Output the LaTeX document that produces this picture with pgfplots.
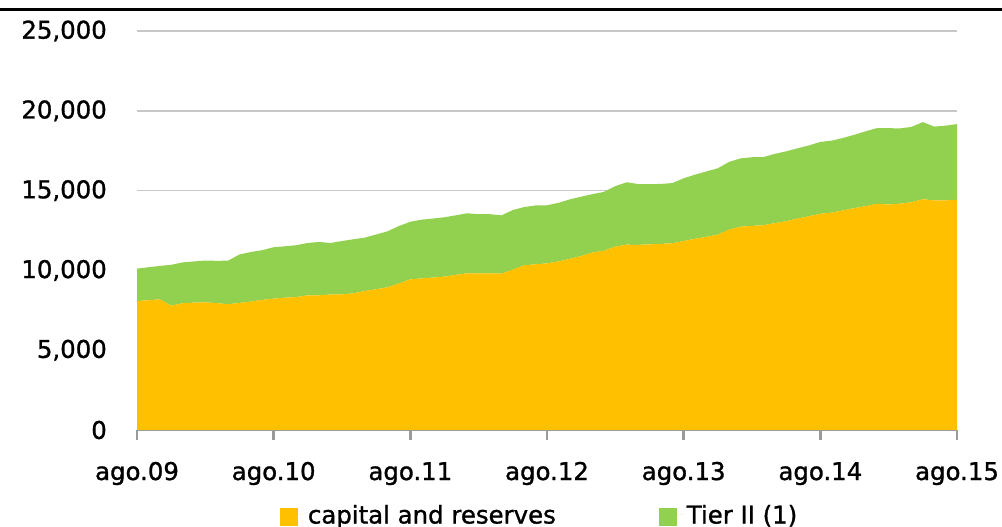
\documentclass[border=0pt]{standalone}
\usepackage{pgfplots}
\pgfplotsset{compat=1.18}
\usepackage{pgfplotstable}
\usepackage{fontspec}
\setmainfont{DejaVu Sans}
\newfontfamily\lblfont{DejaVu Sans}[FakeBold=1.2]
\definecolor{capcol}{HTML}{FFC000}
\definecolor{tiercol}{HTML}{92D050}
\definecolor{gridc}{HTML}{C8C8C8}
\definecolor{axc}{HTML}{9A9A9A}
\pgfplotstableread{
i cap tier
0 8080 2030
1 8130 2070
2 8190 2090
3 7790 2560
4 7940 2560
5 7980 2580
6 8000 2620
7 7950 2650
8 7880 2730
9 7960 3040
10 8050 3100
11 8150 3120
12 8230 3220
13 8290 3220
14 8330 3250
15 8440 3280
16 8440 3340
17 8490 3230
18 8500 3340
19 8560 3390
20 8710 3340
21 8820 3430
22 8940 3510
23 9180 3600
24 9440 3610
25 9500 3680
26 9550 3700
27 9610 3720
28 9720 3730
29 9820 3760
30 9820 3700
31 9820 3700
32 9800 3650
33 10050 3730
34 10320 3650
35 10380 3690
36 10440 3640
37 10560 3670
38 10720 3730
39 10900 3720
40 11120 3660
41 11230 3690
42 11490 3790
43 11610 3910
44 11600 3810
45 11630 3770
46 11660 3760
47 11700 3770
48 11840 3930
49 11980 4020
50 12100 4100
51 12240 4160
52 12560 4240
53 12740 4280
54 12790 4300
55 12830 4270
56 12960 4340
57 13080 4380
58 13250 4400
59 13390 4440
60 13550 4500
61 13620 4510
62 13760 4540
63 13900 4600
64 14030 4690
65 14170 4750
66 14130 4780
67 14180 4720
68 14270 4720
69 14460 4830
70 14380 4630
71 14390 4680
72 14420 4750
}\data
\begin{document}
\begin{tikzpicture}
\path[use as bounding box] (0,0) rectangle (1002bp,527bp);
\draw[line width=3bp] (0,517bp) -- (1002bp,517bp);
\begin{axis}[
  at={(137bp,97bp)}, anchor=south west,
  scale only axis, width=820bp, height=399bp,
  xmin=0, xmax=72, ymin=0, ymax=25000,
  stack plots=y,
  axis lines*=left,
  y axis line style={draw=none},
  x axis line style={draw=axc, line width=2.5bp, -},
  xtick={0,12,24,36,48,60,72},
  xticklabels={ago.09,ago.10,ago.11,ago.12,ago.13,ago.14,ago.15},
  ytick={0,5000,10000,15000,20000,25000},
  scaled y ticks=false,
  /pgf/number format/.cd, fixed, 1000 sep={,}, assume math mode=true, /pgfplots/.cd,
  tick align=outside,
  major tick length=10bp,
  xtick style={draw=axc, line width=2.5bp},
  ytick style={draw=none},
  ymajorgrids, grid style={draw=gridc, line width=1.5bp},
  tick label style={font=\lblfont\fontsize{24.5}{28}\selectfont, text=black},
  yticklabel style={anchor=east, inner sep=0pt, xshift=-20bp},
  xticklabel style={anchor=base, inner sep=0pt, yshift=-40bp},
  legend style={at={(0.491,-0.213)}, anchor=center, draw=none, fill=none,
    legend columns=2, font=\lblfont\fontsize{24.5}{28}\selectfont,
    /tikz/every even column/.append style={column sep=101bp}},
  legend image code/.code={\fill[#1] (0bp,-11bp) rectangle (18bp,7bp); \path (0bp,0bp) -- (26bp,0bp);},
]
\addplot[fill=capcol, draw=none] table[x=i, y=cap] {\data} \closedcycle;
\addlegendentry{capital and reserves}
\addplot[fill=tiercol, draw=none] table[x=i, y=tier] {\data} \closedcycle;
\addlegendentry{Tier II (1)}
\end{axis}
\end{tikzpicture}
\end{document}
